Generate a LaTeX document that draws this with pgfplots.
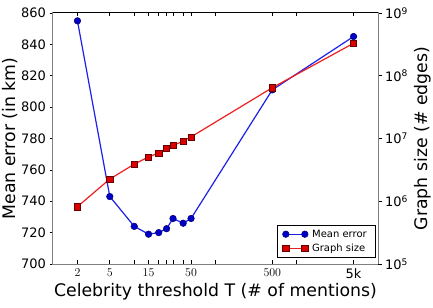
\documentclass[border=0pt]{standalone}
\usepackage{fontspec}
\setmainfont{DejaVu Sans}
\usepackage{pgfplots}
\usepackage{pgfplotstable}
\pgfplotsset{compat=1.18}

\definecolor{errline}{rgb}{0.12,0.12,0.92}
\definecolor{errfill}{rgb}{0.0,0.0,0.78}
\definecolor{errdraw}{rgb}{0.0,0.0,0.45}
\definecolor{sizeline}{rgb}{0.93,0.12,0.12}
\definecolor{sizefill}{rgb}{0.86,0.0,0.0}
\definecolor{sizedraw}{rgb}{0.40,0.0,0.0}
\definecolor{spine}{rgb}{0.50,0.50,0.50}

% T = celebrity threshold, err = mean error (km), size = graph size (# edges)
\pgfplotstableread{
T     err    size
2     855    8.2e5
5     743    2.26e6
10    724    3.9e6
15    719    5.07e6
20    720    5.9e6
25    722.5  6.97e6
30    729    7.7e6
40    726    9.1e6
50    729    1.06e7
500   811    6.45e7
5000  845    3.29e8
}\datatable

\newcommand{\labelfont}{\fontsize{17.3bp}{20bp}\selectfont}
\newcommand{\tickfont}{\fontsize{13bp}{15bp}\selectfont}

\pgfplotsset{
  twomarks/.style={
    legend image code/.code={
      \draw[##1] plot coordinates {(0bp,0bp) (19bp,0bp)};
    }
  },
  errstyle/.style={errline, line width=1.2bp, mark=*, mark size=3.3bp,
    mark options={fill=errfill, draw=errdraw, line width=0.5bp}},
  sizestyle/.style={sizeline, line width=1.2bp, mark=square*, mark size=3.1bp,
    mark options={fill=sizefill, draw=sizedraw, line width=0.5bp}},
}

\begin{document}
\begin{tikzpicture}
\begin{axis}[
  name=ax,
  scale only axis, width=325bp, height=251bp,
  xmode=log, xmin=1, xmax=10000,
  ymin=700, ymax=860,
  ytick={700,720,...,860},
  xtick={2,5,15,50,500,5000},
  xticklabels={$2$,$5$,$15$,$50$,$500$,5k},
  extra x ticks={10,20,25,30,40,100,1000},
  extra x tick labels={},
  xminorticks=false,
  xtick pos=both, xtick align=inside,
  ytick pos=left, ytick align=outside,
  major tick length=3.5bp,
  tick style={black, line width=0.6bp},
  axis line style={spine, line width=1bp},
  /pgf/number format/assume math mode=true,
  tick label style={font=\tickfont},
  xticklabel style={yshift=-1bp},
  xlabel={Celebrity threshold T (\# of mentions)},
  ylabel={Mean error (in km)},
  every axis x label/.style={at={(axis description cs:0.5,-0.112)}, anchor=center, font=\labelfont},
  every axis y label/.style={at={(axis description cs:-0.132,0.5)}, rotate=90, anchor=center, font=\labelfont},
  clip=false,
]
\addplot[errstyle] table[x=T, y=err] {\datatable};
\draw[black, line width=1bp] (rel axis cs:0,1) -- (rel axis cs:1,1);
\end{axis}
\begin{axis}[
  scale only axis, width=325bp, height=251bp,
  xmode=log, xmin=1, xmax=10000,
  ymode=log, ymin=1e5, ymax=1e9,
  hide x axis,
  axis y line*=right,
  ytick={1e5,1e6,1e7,1e8,1e9},
  yticklabels={10\textsuperscript{5},10\textsuperscript{6},10\textsuperscript{7},10\textsuperscript{8},10\textsuperscript{9}},
  yminorticks=false,
  ytick align=outside,
  major tick length=3.5bp,
  tick style={black, line width=0.6bp},
  axis line style={spine, line width=1bp},
  tick label style={font=\tickfont},
  ylabel={Graph size (\# edges)},
  every axis y label/.style={at={(axis description cs:1.138,0.5)}, rotate=90, anchor=center, font=\labelfont},
  legend style={at={(axis description cs:0.994,0.024)}, anchor=south east,
    draw=black, line width=0.6bp, fill=white,
    font=\fontsize{10bp}{12bp}\selectfont,
    inner xsep=5bp, inner ysep=3bp, row sep=1bp,
    nodes={inner xsep=4bp}},
  legend cell align=left,
  twomarks,
]
\addlegendimage{errstyle}
\addlegendentry{Mean error}
\addplot[sizestyle] table[x=T, y=size] {\datatable};
\addlegendentry{Graph size}
\end{axis}
\pgfresetboundingbox
\path[use as bounding box] ([xshift=-53bp,yshift=-44bp]ax.south west) rectangle ([xshift=55bp,yshift=13bp]ax.north east);
\end{tikzpicture}
\end{document}
